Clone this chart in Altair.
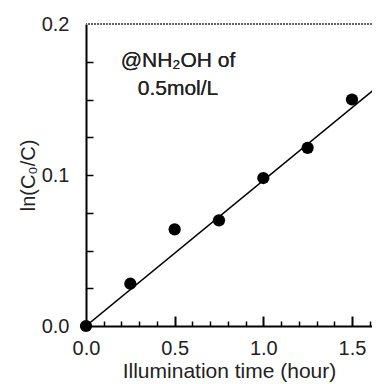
import altair as alt
import pandas as pd

# ---- data ----
time_h = [0.0, 0.25, 0.5, 0.75, 1.0, 1.25, 1.5]
ln_ratio = [0.0, 0.028, 0.064, 0.070, 0.098, 0.118, 0.150]
fit_x = [0.0, 1.66]
fit_y = [0.0, 0.160]
x_label_vals = [0.0, 0.5, 1.0, 1.5]
x_major_ticks = [0.5, 1.0, 1.5]
x_minor_ticks = [0.1, 0.2, 0.3, 0.4, 0.6, 0.7, 0.8, 0.9, 1.1, 1.2, 1.3, 1.4, 1.6]
y_label_vals = [0.0, 0.1, 0.2]
y_ticks = [0.025, 0.05, 0.075, 0.1, 0.125, 0.15, 0.175]
annotation = ["@NH\u2082OH of", "0.5mol/L"]
x_title = "Illumination time (hour)"
y_title = "ln(C\u2080/C)"

W, H = 286, 302
FONT = "Liberation Sans"
TXT = "#222222"

pts = pd.DataFrame({"t": time_h, "v": ln_ratio})
fit = pd.DataFrame({"t": fit_x, "v": fit_y})

xs = alt.Scale(domain=[0, 1.613], nice=False, zero=False)
ys = alt.Scale(domain=[0, 0.2], nice=False, zero=False)

points = alt.Chart(pts).mark_circle(size=150, color="black", opacity=1, clip=False).encode(
    x=alt.X("t:Q", scale=xs, axis=alt.Axis(
        values=x_label_vals, format=".1f", ticks=False, grid=False,
        domain=True, domainColor="black", domainWidth=2,
        labelFont=FONT, labelFontSize=20, labelColor=TXT, labelPadding=12,
        labelFlush=False,
        title=x_title, titleFont=FONT, titleFontSize=21, titleFontWeight="normal",
        titleColor=TXT, titlePadding=2)),
    y=alt.Y("v:Q", scale=ys, axis=alt.Axis(
        values=y_label_vals, format=".1f", ticks=False, grid=False,
        domain=True, domainColor="black", domainWidth=2,
        labelFont=FONT, labelFontSize=20, labelColor=TXT, labelPadding=17,
        labelFlush=False,
        title=y_title, titleFont=FONT, titleFontSize=20, titleFontWeight="normal",
        titleColor=TXT, titlePadding=3)),
)

line = alt.Chart(fit).mark_line(color="black", strokeWidth=1.4, clip=True).encode(
    x=alt.X("t:Q", scale=xs, axis=alt.Axis(
        orient="top", offset=-H, values=x_minor_ticks, ticks=True, tickSize=5,
        tickWidth=1.5, tickColor="black", labels=False, domain=False, grid=False, title=None)),
    y=alt.Y("v:Q", scale=ys, axis=alt.Axis(
        orient="right", offset=-W, values=y_ticks, ticks=True, tickSize=7,
        tickWidth=1.5, tickColor="black", labels=False, domain=False, grid=False, title=None)),
)

major = alt.Chart(fit).mark_line(opacity=0, clip=True).encode(
    x=alt.X("t:Q", scale=xs, axis=alt.Axis(
        orient="top", offset=-H, values=x_major_ticks, ticks=True, tickSize=10,
        tickWidth=2, tickColor="black", labels=False, domain=False, grid=False, title=None)),
    y=alt.Y("v:Q", scale=ys, axis=None),
)

top_border = alt.Chart(fit).mark_rule(color="#666666", strokeWidth=2, strokeDash=[2, 1]).encode(
    y=alt.value(0)
)

note = alt.Chart(fit).mark_text(
    text=annotation, font=FONT, fontSize=21, color=TXT, align="center",
    baseline="middle", lineHeight=28
).encode(x=alt.value(92), y=alt.value(37))

chart = alt.layer(top_border, line, major, points, note).resolve_axis(
    x="independent", y="independent"
).properties(
    width=W, height=H,
    autosize=alt.AutoSizeParams(type="none"),
    padding={"left": 78, "top": 16, "right": 0, "bottom": 58},
).configure_view(stroke=None)

chart.save("out.html", embed_options={"renderer": "svg", "actions": False})
